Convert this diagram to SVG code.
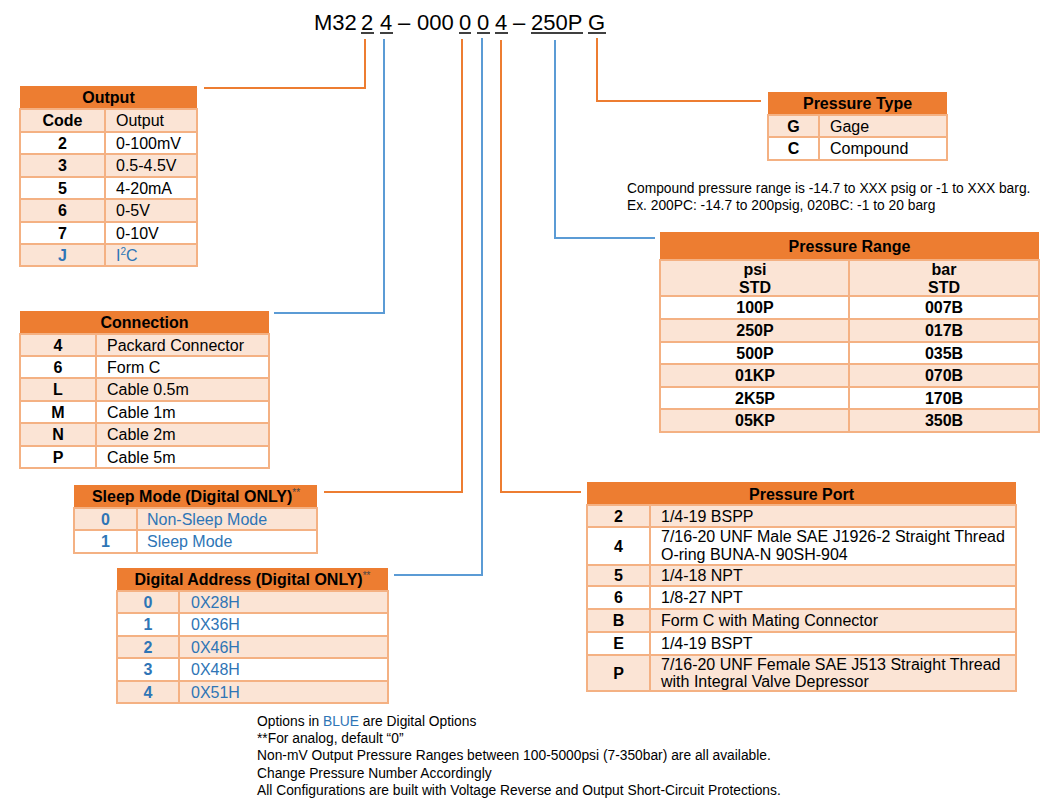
<svg xmlns="http://www.w3.org/2000/svg" width="1060" height="812" viewBox="0 0 1060 812">
<style>
text{font-family:"Liberation Sans",Arial,sans-serif;font-size:16px;fill:#000}
.t{font-size:22px}
.h{font-weight:bold;text-anchor:middle}
.c{font-weight:bold;text-anchor:middle}
.bl{fill:#2E75B6}
.n{font-size:13.8px}
.hd{fill:#ED7D31}
.l{fill:#FBE4D5;stroke:#F4B183;stroke-width:2}
.w{fill:#FFFFFF;stroke:#F4B183;stroke-width:2}
.d{stroke:#F4B183;stroke-width:2}
.ul{stroke:#000;stroke-width:1.5}
.co{fill:none;stroke:#ED7D31;stroke-width:2}
.cb{fill:none;stroke:#5B9BD5;stroke-width:2}
.st{font-size:10px;font-weight:normal;fill:#444}
</style>

<g id="title">
<text class="t" x="314" y="30">M32</text>
<text class="t" x="361" y="30">2</text>
<text class="t" x="380" y="30">4</text>
<text class="t" x="398" y="30">–</text>
<text class="t" x="417" y="30">000</text>
<text class="t" x="459" y="30">0</text>
<text class="t" x="477" y="30">0</text>
<text class="t" x="495" y="30">4</text>
<text class="t" x="513" y="30">–</text>
<text class="t" x="531" y="30">250P</text>
<text class="t" x="588" y="30">G</text>
<line class="ul" x1="361" y1="33" x2="374" y2="33"/>
<line class="ul" x1="380" y1="33" x2="393" y2="33"/>
<line class="ul" x1="459" y1="33" x2="471" y2="33"/>
<line class="ul" x1="477" y1="33" x2="490" y2="33"/>
<line class="ul" x1="495" y1="33" x2="508" y2="33"/>
<line class="ul" x1="531" y1="33" x2="583" y2="33"/>
<line class="ul" x1="588" y1="33" x2="606" y2="33"/>
</g>

<g id="connectors">
<polyline class="co" points="365,39 365,88 204,88"/>
<polyline class="cb" points="384,39 384,313 274,313"/>
<polyline class="co" points="462,39 462,492 324,492"/>
<polyline class="cb" points="482,38 482,575 394,575"/>
<polyline class="co" points="501,40 501,492 581,492"/>
<polyline class="cb" points="555,40 555,238 655,238"/>
<polyline class="co" points="597,38 597,101 761,101"/>
</g>

<g id="output">
<rect class="hd" x="20" y="86" width="177" height="23"/>
<text class="h" x="108.5" y="103">Output</text>
<rect class="l" x="20" y="109" width="177" height="23"/>
<rect class="w" x="20" y="132" width="177" height="22"/>
<rect class="l" x="20" y="154" width="177" height="23"/>
<rect class="w" x="20" y="177" width="177" height="22"/>
<rect class="l" x="20" y="199" width="177" height="23"/>
<rect class="w" x="20" y="222" width="177" height="22"/>
<rect class="l" x="20" y="244" width="177" height="22"/>
<line class="d" x1="105" y1="109" x2="105" y2="266"/>
<text class="c" x="62.5" y="126">Code</text><text x="116" y="126">Output</text>
<text class="c" x="62.5" y="148.5">2</text><text x="116" y="148.5">0-100mV</text>
<text class="c" x="62.5" y="171">3</text><text x="116" y="171">0.5-4.5V</text>
<text class="c" x="62.5" y="193.5">5</text><text x="116" y="193.5">4-20mA</text>
<text class="c" x="62.5" y="216">6</text><text x="116" y="216">0-5V</text>
<text class="c" x="62.5" y="238.5">7</text><text x="116" y="238.5">0-10V</text>
<text class="c bl" x="62.5" y="260.5">J</text><text class="bl" x="116" y="260.5">I<tspan font-size="10" dy="-6">2</tspan><tspan dy="6">C</tspan></text>
</g>

<g id="connection">
<rect class="hd" x="20" y="311" width="249" height="23"/>
<text class="h" x="144.5" y="328">Connection</text>
<rect class="l" x="20" y="334" width="249" height="22"/>
<rect class="w" x="20" y="356" width="249" height="22"/>
<rect class="l" x="20" y="378" width="249" height="23"/>
<rect class="w" x="20" y="401" width="249" height="22"/>
<rect class="l" x="20" y="423" width="249" height="23"/>
<rect class="w" x="20" y="446" width="249" height="22"/>
<line class="d" x1="96" y1="334" x2="96" y2="468"/>
<text class="c" x="58" y="350.5">4</text><text x="107" y="350.5">Packard Connector</text>
<text class="c" x="58" y="372.5">6</text><text x="107" y="372.5">Form C</text>
<text class="c" x="58" y="395">L</text><text x="107" y="395">Cable 0.5m</text>
<text class="c" x="58" y="417.5">M</text><text x="107" y="417.5">Cable 1m</text>
<text class="c" x="58" y="440">N</text><text x="107" y="440">Cable 2m</text>
<text class="c" x="58" y="462.5">P</text><text x="107" y="462.5">Cable 5m</text>
</g>

<g id="sleep-mode">
<rect class="hd" x="74" y="485" width="243" height="23"/>
<text class="h" x="196" y="502">Sleep Mode (Digital ONLY)<tspan class="st" dy="-6">**</tspan></text>
<rect class="l" x="74" y="508" width="243" height="22"/>
<rect class="w" x="74" y="530" width="243" height="23"/>
<line class="d" x1="137" y1="508" x2="137" y2="553"/>
<text class="c bl" x="105.5" y="524.5">0</text><text class="bl" x="147" y="524.5">Non-Sleep Mode</text>
<text class="c bl" x="105.5" y="547">1</text><text class="bl" x="147" y="547">Sleep Mode</text>
</g>

<g id="digital-address">
<rect class="hd" x="117" y="568" width="271" height="23"/>
<text class="h" x="252.5" y="585">Digital Address (Digital ONLY)<tspan class="st" dy="-6">**</tspan></text>
<rect class="l" x="117" y="591" width="271" height="22"/>
<rect class="w" x="117" y="613" width="271" height="23"/>
<rect class="l" x="117" y="636" width="271" height="22"/>
<rect class="w" x="117" y="658" width="271" height="23"/>
<rect class="l" x="117" y="681" width="271" height="22"/>
<line class="d" x1="179" y1="591" x2="179" y2="703"/>
<text class="c bl" x="148" y="607.5">0</text><text class="bl" x="191" y="607.5">0X28H</text>
<text class="c bl" x="148" y="630">1</text><text class="bl" x="191" y="630">0X36H</text>
<text class="c bl" x="148" y="652.5">2</text><text class="bl" x="191" y="652.5">0X46H</text>
<text class="c bl" x="148" y="675">3</text><text class="bl" x="191" y="675">0X48H</text>
<text class="c bl" x="148" y="697.5">4</text><text class="bl" x="191" y="697.5">0X51H</text>
</g>

<g id="pressure-type">
<rect class="hd" x="768" y="92" width="179" height="23"/>
<text class="h" x="857.5" y="109">Pressure Type</text>
<rect class="l" x="768" y="115" width="179" height="22"/>
<rect class="w" x="768" y="137" width="179" height="23"/>
<line class="d" x1="819" y1="115" x2="819" y2="160"/>
<text class="c" x="793.5" y="131.5">G</text><text x="830" y="131.5">Gage</text>
<text class="c" x="793.5" y="154">C</text><text x="830" y="154">Compound</text>
</g>

<g id="compound-note">
<text class="n" x="627" y="193">Compound pressure range is -14.7 to XXX psig or -1 to XXX barg.</text>
<text class="n" x="627" y="210">Ex. 200PC: -14.7 to 200psig, 020BC: -1 to 20 barg</text>
</g>

<g id="pressure-range">
<rect class="hd" x="660" y="232" width="379" height="28"/>
<text class="h" x="849.5" y="251.5">Pressure Range</text>
<rect class="l" x="660" y="260" width="379" height="36"/>
<rect class="w" x="660" y="296" width="379" height="23"/>
<rect class="l" x="660" y="319" width="379" height="23"/>
<rect class="w" x="660" y="342" width="379" height="22"/>
<rect class="l" x="660" y="364" width="379" height="23"/>
<rect class="w" x="660" y="387" width="379" height="22"/>
<rect class="l" x="660" y="409" width="379" height="23"/>
<line class="d" x1="849" y1="260" x2="849" y2="432"/>
<text class="c" x="755" y="274.5">psi</text><text class="c" x="944" y="274.5">bar</text>
<text class="c" x="755" y="292.5">STD</text><text class="c" x="944" y="292.5">STD</text>
<text class="c" x="755" y="313">100P</text><text class="c" x="944" y="313">007B</text>
<text class="c" x="755" y="336">250P</text><text class="c" x="944" y="336">017B</text>
<text class="c" x="755" y="358.5">500P</text><text class="c" x="944" y="358.5">035B</text>
<text class="c" x="755" y="381">01KP</text><text class="c" x="944" y="381">070B</text>
<text class="c" x="755" y="403.5">2K5P</text><text class="c" x="944" y="403.5">170B</text>
<text class="c" x="755" y="426">05KP</text><text class="c" x="944" y="426">350B</text>
</g>

<g id="pressure-port">
<rect class="hd" x="587" y="482" width="429" height="23"/>
<text class="h" x="801.5" y="499.5">Pressure Port</text>
<rect class="l" x="587" y="505" width="429" height="22"/>
<rect class="w" x="587" y="527" width="429" height="38"/>
<rect class="l" x="587" y="565" width="429" height="21"/>
<rect class="w" x="587" y="586" width="429" height="23"/>
<rect class="l" x="587" y="609" width="429" height="23"/>
<rect class="w" x="587" y="632" width="429" height="23"/>
<rect class="l" x="587" y="655" width="429" height="36"/>
<line class="d" x1="650" y1="505" x2="650" y2="691"/>
<text class="c" x="618.5" y="521.5">2</text><text x="661" y="521.5">1/4-19 BSPP</text>
<text class="c" x="618.5" y="551.5">4</text><text x="661" y="542">7/16-20 UNF Male SAE J1926-2 Straight Thread</text><text x="661" y="560">O-ring BUNA-N 90SH-904</text>
<text class="c" x="618.5" y="581">5</text><text x="661" y="581">1/4-18 NPT</text>
<text class="c" x="618.5" y="603">6</text><text x="661" y="603">1/8-27 NPT</text>
<text class="c" x="618.5" y="626">B</text><text x="661" y="626">Form C with Mating Connector</text>
<text class="c" x="618.5" y="649">E</text><text x="661" y="649">1/4-19 BSPT</text>
<text class="c" x="618.5" y="678.5">P</text><text x="661" y="670">7/16-20 UNF Female SAE J513 Straight Thread</text><text x="661" y="687">with Integral Valve Depressor</text>
</g>

<g id="footnotes">
<text class="n" x="257" y="725.5">Options in <tspan class="bl">BLUE</tspan> are Digital Options</text>
<text class="n" x="257" y="742.5">**For analog, default “0”</text>
<text class="n" x="257" y="760">Non-mV Output Pressure Ranges between 100-5000psi (7-350bar) are all available.</text>
<text class="n" x="257" y="777.5">Change Pressure Number Accordingly</text>
<text class="n" x="257" y="795">All Configurations are built with Voltage Reverse and Output Short-Circuit Protections.</text>
</g>
</svg>
